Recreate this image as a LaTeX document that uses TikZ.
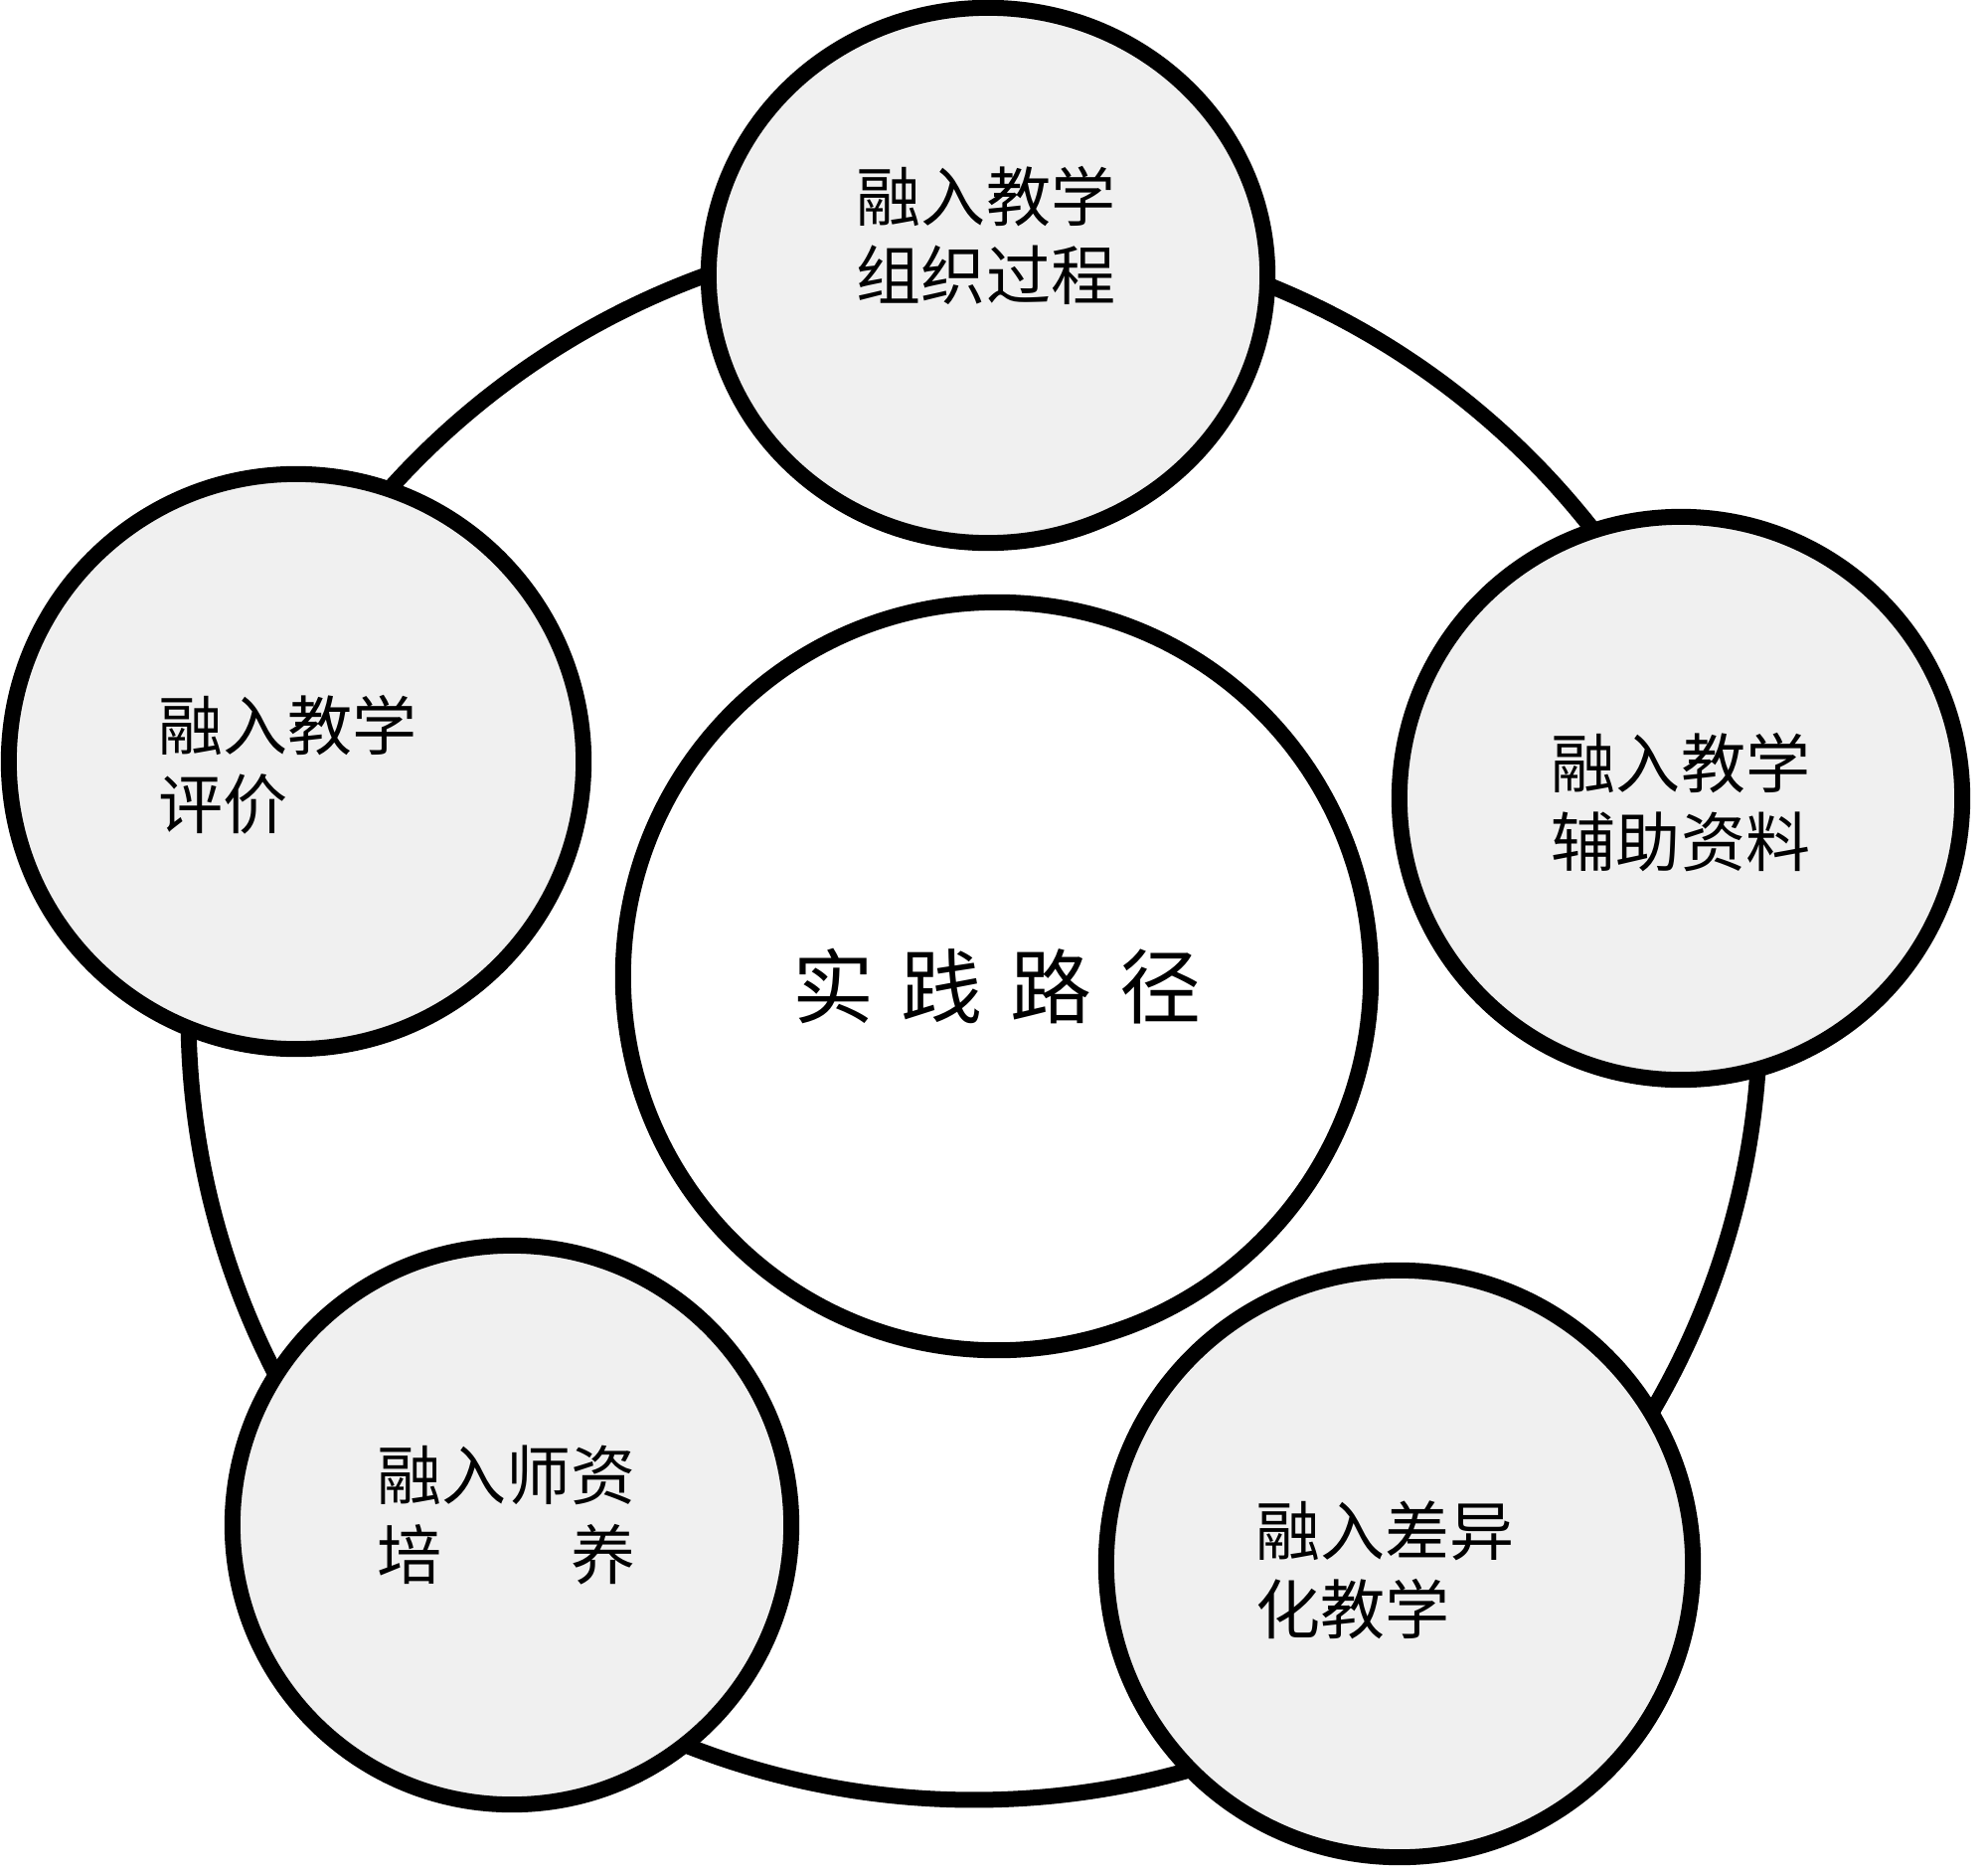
\documentclass[tikz,border=0pt]{standalone}
\usepackage{fontspec}
\usetikzlibrary{shapes.geometric}
\newfontfamily\song{Noto Sans CJK SC}
\definecolor{bubgray}{HTML}{F0F0F0}
\begin{document}
\begin{tikzpicture}[x=0.01cm,y=-0.01cm,
  ringstyle/.style={circle, draw=black, line width=0.16cm, inner sep=0pt, outer sep=0pt},
  bub/.style={ringstyle, fill=bubgray},
  lbl/.style={font=\song\fontsize{18.5pt}{22.5pt}\selectfont, align=left, inner sep=0pt},
  corelbl/.style={font=\song\fontsize{23.3pt}{28pt}\selectfont, inner sep=0pt}]
\useasboundingbox[fill=white] (0,0) rectangle (2000,1885);
% outer ring
\node[ringstyle, minimum size=15.8cm] (ring) at (980,1020) {};
% central circle
\node[ringstyle, fill=white, minimum size=7.52cm] (core) at (1003,982) {};
% five bubbles
\node[ellipse, draw=black, line width=0.16cm, fill=bubgray, inner sep=0pt, outer sep=0pt,
      minimum width=5.62cm, minimum height=5.38cm] (btop) at (994,277) {};
\node[bub, minimum size=5.66cm] (bright) at (1691,803) {};
\node[bub, minimum size=5.78cm] (bleft) at (298,766) {};
\node[bub, minimum size=5.62cm] (bbl) at (515,1534) {};
\node[bub, minimum size=5.90cm] (bbr) at (1408,1573) {};
% texts
\node[corelbl] (tcore) at (1003,992) {实\hspace{0.28cm}践\hspace{0.28cm}路\hspace{0.28cm}径};
\node[lbl, align=center] (ttop) at (992,237) {融入教学\\组织过程};
\node[lbl, align=center] (tright) at (1691,807) {融入教学\\辅助资料};
\node[lbl, anchor=west] (tleft) at (159,769) {融入教学\\评价};
\node[lbl, anchor=west] (tbl) at (379,1524) {融入师资\\\hbox to 4em{培\hfill 养}};
\node[lbl, anchor=west] (tbr) at (1263,1579) {融入差异\\化教学};
\end{tikzpicture}
\end{document}
